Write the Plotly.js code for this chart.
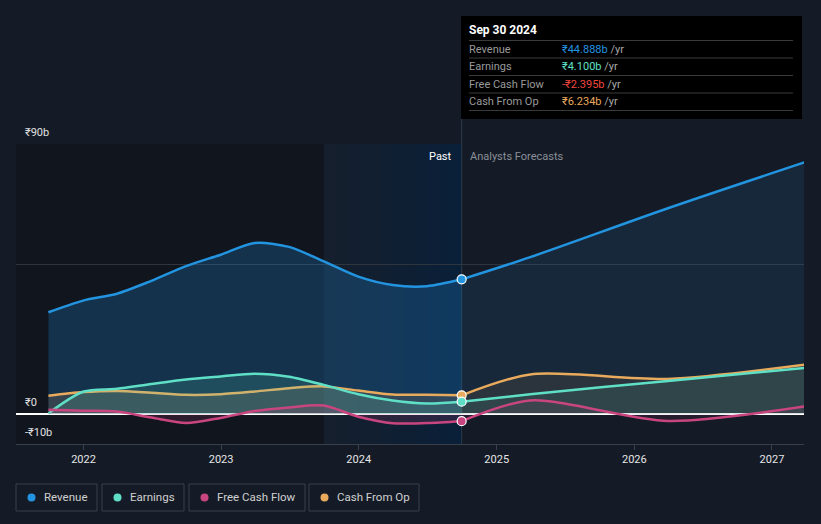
<!DOCTYPE html>
<html>
<head>
<meta charset="utf-8">
<script src="https://cdn.plot.ly/plotly-3.0.1.min.js"></script>
<style>
html,body{margin:0;padding:0;background:#151b26;}
#chart{width:821px;height:524px;}
</style>
</head>
<body>
<div id="chart"></div>
<script>
// ---- Data (₹ billions) ----
const pastDates = ['2021-09-30','2021-12-31','2022-03-31','2022-06-30','2022-09-30','2022-12-31','2023-03-31','2023-06-30','2023-09-30','2023-12-31','2024-03-31','2024-06-30','2024-09-30'];
const revenuePast  = [33.9, 37.8, 40.1, 44.4, 49.3, 53.1, 57.0, 55.7, 50.9, 45.8, 43.0, 42.6, 44.888];
const earningsPast = [0.2, 7.4, 8.4, 10.0, 11.5, 12.5, 13.4, 12.4, 9.7, 6.6, 4.5, 3.5, 4.100];
const fcfPast      = [1.4, 1.1, 0.8, -1.2, -3.0, -1.3, 1.0, 2.2, 2.8, -0.9, -3.1, -3.0, -2.395];
const cfoPast      = [6.1, 7.3, 7.7, 7.1, 6.4, 6.6, 7.5, 8.6, 9.2, 7.8, 6.5, 6.4, 6.234];

const forecastDates = ['2024-09-30','2025-03-31','2026-03-31','2027-03-31'];
const revenueFc  = [44.888, 52.3, 68.6, 84.0];
const earningsFc = [4.100, 6.6, 11.0, 15.4];
const fcfFc      = [-2.395, 4.5, -2.3, 2.6];
const cfoFc      = [6.234, 13.2, 11.7, 16.5];

const seriesNames = ['Revenue', 'Earnings', 'Free Cash Flow', 'Cash From Op'];
const tooltipDate = 'Sep 30 2024';
const tooltipValues = ['₹44.888b', '₹4.100b', '-₹2.395b', '₹6.234b'];
const xTickVals = ['2022-01-01','2023-01-01','2024-01-01','2025-01-01','2026-01-01','2027-01-01'];
const xTickText = ['2022','2023','2024','2025','2026','2027'];
const yLabelVals = [90, 0, -10];
const yLabelText = ['₹90b', '₹0', '-₹10b'];
const yGridVals = [50, 90];

// ---- Styles ----
const colors = ['#2394e0', '#5fe0c6', '#c9457f', '#e8aa5c'];
const rgb = ['35,148,224', '95,224,198', '201,69,127', '232,170,92'];
const pastAlpha = [0.23, 0.16, 0.16, 0.15];
const fcAlpha = [0.11, 0.10, 0.08, 0.10];

const pastSeries = [revenuePast, earningsPast, fcfPast, cfoPast];
const fcSeries = [revenueFc, earningsFc, fcfFc, cfoFc];

const traces = [];
const drawOrder = [0, 3, 1, 2];
drawOrder.forEach(i => {
  traces.push({
    x: pastDates, y: pastSeries[i], type: 'scatter', mode: 'lines',
    line: {color: colors[i], width: 2.5, shape: 'spline', smoothing: 0.8},
    fill: 'tozeroy', fillcolor: 'rgba(' + rgb[i] + ',' + pastAlpha[i] + ')',
    hoverinfo: 'skip', showlegend: false
  });
  traces.push({
    x: forecastDates, y: fcSeries[i], type: 'scatter', mode: 'lines',
    line: {color: colors[i], width: 2.5, shape: 'spline', smoothing: 0.8},
    fill: 'tozeroy', fillcolor: 'rgba(' + rgb[i] + ',' + fcAlpha[i] + ')',
    hoverinfo: 'skip', showlegend: false
  });
});
// highlighted points at the last reported date
drawOrder.forEach(i => {
  const last = pastSeries[i].length - 1;
  traces.push({
    x: [pastDates[last]], y: [pastSeries[i][last]], type: 'scatter', mode: 'markers',
    marker: {color: colors[i], size: 9, line: {color: '#ffffff', width: 1.2}},
    hoverinfo: 'skip', showlegend: false
  });
});

// ---- Layout helpers (pixel -> paper) ----
const L = 16, R = 804, T = 144, B = 444;
const px = x => (x - L) / (R - L);
const py = y => (B - y) / (B - T);

const xStart = '2021-07-06', xEnd = '2027-03-27';
const nowDate = pastDates[pastDates.length - 1];
const highlightStart = '2023-09-30';

const shapes = [];
// darker past region
shapes.push({type: 'rect', xref: 'x', yref: 'paper', x0: xStart, x1: highlightStart, y0: 0, y1: 1,
  fillcolor: '#10151e', line: {width: 0}, layer: 'below'});
// highlight gradient (last year): nested rects all ending at "now" -> smooth ramp
const hs = new Date(highlightStart).getTime(), he = new Date(nowDate).getTime();
shapes.push({type: 'rect', xref: 'x', yref: 'paper', x0: highlightStart, x1: nowDate, y0: 0, y1: 1,
  fillcolor: 'rgb(30,110,170)', opacity: 0.05, line: {width: 0}, layer: 'below'});
const nStrips = 12;
for (let k = 1; k < nStrips; k++) {
  shapes.push({type: 'rect', xref: 'x', yref: 'paper',
    x0: new Date(hs + (he - hs) * k / nStrips).toISOString().slice(0, 10),
    x1: nowDate,
    y0: 0, y1: 1, fillcolor: 'rgb(30,110,170)', opacity: 0.012, line: {width: 0}, layer: 'below'});
}
// vertical "now" line
shapes.push({type: 'line', xref: 'x', yref: 'paper', x0: nowDate, x1: nowDate, y0: 0, y1: py(119),
  line: {color: '#2c3c4c', width: 1}, layer: 'below'});

// tooltip box
shapes.push({type: 'rect', xref: 'paper', yref: 'paper', x0: px(461), x1: px(802), y0: py(119), y1: py(16),
  fillcolor: '#000000', line: {width: 0}});
[40.5, 58, 75.5, 93, 110.5].forEach(yy => {
  shapes.push({type: 'line', xref: 'paper', yref: 'paper', x0: px(469), x1: px(793), y0: py(yy), y1: py(yy),
    line: {color: '#3a3a3a', width: 1}});
});

const annotations = [];
annotations.push({xref: 'paper', yref: 'paper', x: px(467), y: py(30), xanchor: 'left', yanchor: 'middle',
  text: '<b>' + tooltipDate + '</b>', showarrow: false, font: {color: '#ffffff', size: 12, family: 'Roboto'}});
const rowY = [49.3, 66.7, 84.3, 101.5];
const valColors = ['#2394e0', '#5fe0c6', '#f0453e', '#e8aa5c'];
seriesNames.forEach((n, i) => {
  annotations.push({xref: 'paper', yref: 'paper', x: px(467), y: py(rowY[i]), xanchor: 'left', yanchor: 'middle',
    text: n, showarrow: false, font: {color: '#9a9a9a', size: 11, family: 'Roboto'}});
  annotations.push({xref: 'paper', yref: 'paper', x: px(559.5), y: py(rowY[i]), xanchor: 'left', yanchor: 'middle',
    text: '<span style="color:' + valColors[i] + '">' + tooltipValues[i] + '</span> /yr', showarrow: false,
    font: {color: '#a8a8a8', size: 11, family: 'Roboto'}});
});

// Past / Analysts Forecasts
annotations.push({xref: 'x', yref: 'paper', x: nowDate, y: py(156), xanchor: 'right', yanchor: 'middle', xshift: -8,
  text: 'Past', showarrow: false, font: {color: '#ffffff', size: 11, family: 'Roboto'}});
annotations.push({xref: 'x', yref: 'paper', x: nowDate, y: py(156), xanchor: 'left', yanchor: 'middle', xshift: 6,
  text: 'Analysts Forecasts', showarrow: false, font: {color: '#8a8f98', size: 11, family: 'Roboto'}});

// y labels
yLabelVals.forEach((v, i) => {
  annotations.push({xref: 'paper', yref: 'y', x: px(22.5), y: v, xanchor: 'left', yanchor: 'bottom', yshift: 3,
    text: yLabelText[i], showarrow: false, font: {color: '#e0e0e0', size: 11, family: 'Roboto'}});
});

// legend
const legBoxes = [[16, 97], [102, 184], [189, 305], [309, 419]];
seriesNames.forEach((n, i) => {
  const [x0, x1] = legBoxes[i];
  shapes.push({type: 'rect', xref: 'paper', yref: 'paper', x0: px(x0), x1: px(x1), y0: py(511), y1: py(484),
    fillcolor: 'rgba(0,0,0,0)', line: {color: '#3a404a', width: 1}});
  shapes.push({type: 'circle', xref: 'paper', yref: 'paper', x0: px(x0 + 11.5), x1: px(x0 + 19.5), y0: py(501.5), y1: py(493.5),
    fillcolor: colors[i], line: {width: 0}});
  annotations.push({xref: 'paper', yref: 'paper', x: px(x0 + 26), y: py(497.5), xanchor: 'left', yanchor: 'middle',
    text: n, showarrow: false, font: {color: '#d0d0d0', size: 11.5, family: 'Roboto'}});
});

const layout = {
  width: 821, height: 524,
  margin: {l: L, r: 821 - R, t: T, b: 524 - B, pad: 0},
  paper_bgcolor: '#151b26', plot_bgcolor: 'rgba(0,0,0,0)',
  font: {family: 'Roboto, sans-serif', color: '#e0e0e0'},
  showlegend: false, hovermode: false,
  xaxis: {type: 'date', range: [xStart, xEnd], tickvals: xTickVals, ticktext: xTickText,
    ticks: 'outside', ticklen: 5, tickcolor: '#3a404a', tickfont: {size: 11, color: '#e6e6e6'},
    showgrid: false, zeroline: false, showline: true, linecolor: '#3a404a', linewidth: 1, fixedrange: true},
  yaxis: {range: [-10, 90], tickvals: yGridVals, showticklabels: false, ticks: '',
    showgrid: true, gridcolor: '#2e353f', gridwidth: 1,
    zeroline: true, zerolinecolor: '#ffffff', zerolinewidth: 1.5, fixedrange: true},
  shapes: shapes, annotations: annotations
};

Plotly.newPlot('chart', traces, layout, {staticPlot: true, displayModeBar: false});
</script>
</body>
</html>
